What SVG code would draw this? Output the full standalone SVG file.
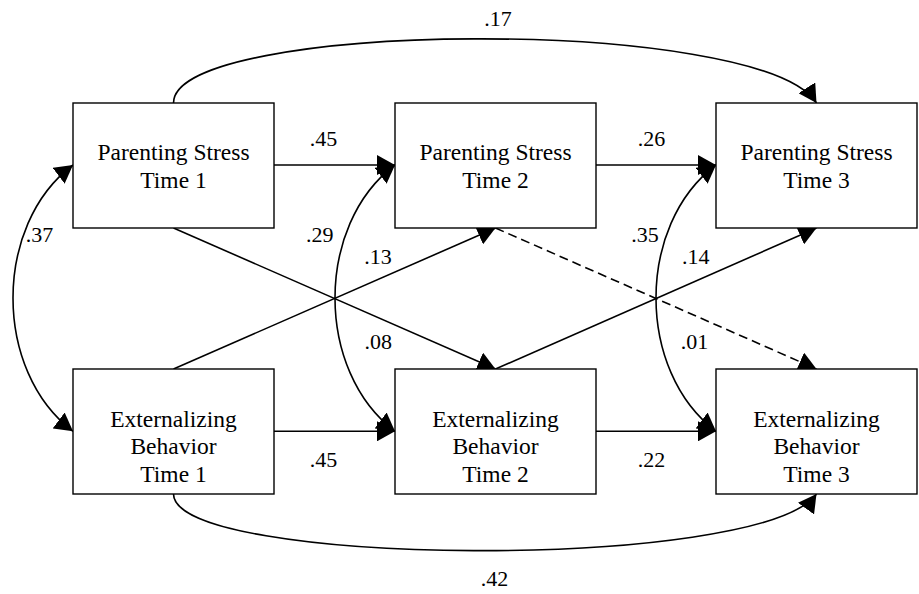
<svg xmlns="http://www.w3.org/2000/svg" width="919" height="594" viewBox="0 0 919 594">
<style>
.box{fill:#fff;stroke:#000;stroke-width:1.4}
.nt{font-family:"Liberation Serif","Times New Roman",serif;font-size:23.5px;fill:#000;text-anchor:middle}
.lb{font-family:"Liberation Serif","Times New Roman",serif;font-size:22px;fill:#000;text-anchor:middle}
.e{fill:none;stroke:#000;stroke-width:1.6;marker-end:url(#ah)}
.d{marker-start:url(#ah)}
.dash{stroke-dasharray:9,5}
</style>
<defs>
<marker id="ah" viewBox="0 0 18 20" refX="18" refY="10" markerWidth="18" markerHeight="20" markerUnits="userSpaceOnUse" orient="auto-start-reverse">
<path d="M0,0 L18,10 L0,20 z" fill="#000"/>
</marker>
</defs>
<rect width="919" height="594" fill="#fff"/>
<g id="connectors">
<path class="e" d="M274,165 H395"/>
<path class="e" d="M596,165 H716"/>
<path class="e" d="M274,431.3 H395"/>
<path class="e" d="M596,431.3 H716"/>
<path class="e" d="M173.5,103 C173.5,20 760,15 816.5,103"/>
<path class="e" d="M173.5,494 C173.5,567 760,572 816.5,494"/>
<path class="e d" d="M73,165 C-7,225 -7,371 73,431.3"/>
<path class="e d" d="M395,165 C315,225 315,371 395,431.3"/>
<path class="e d" d="M716,165 C636,225 636,371 716,431.3"/>
<path class="e" d="M173.5,228 L495.5,369"/>
<path class="e" d="M173.5,369 L495.5,228"/>
<path class="e" d="M495.5,369 L816.5,228"/>
<path class="e dash" d="M495.5,228 L816.5,369"/>
</g>
<g id="edge-labels">
<text class="lb" x="498" y="26">.17</text>
<text class="lb" x="323.5" y="145.7">.45</text>
<text class="lb" x="651.5" y="145.7">.26</text>
<text class="lb" x="39.5" y="242.3">.37</text>
<text class="lb" x="319.7" y="242.3">.29</text>
<text class="lb" x="378" y="264.3">.13</text>
<text class="lb" x="645" y="242.3">.35</text>
<text class="lb" x="695.7" y="264.3">.14</text>
<text class="lb" x="378.3" y="349">.08</text>
<text class="lb" x="694.5" y="349">.01</text>
<text class="lb" x="323.5" y="467.3">.45</text>
<text class="lb" x="651.5" y="467.3">.22</text>
<text class="lb" x="494.5" y="585.7">.42</text>
</g>
<g id="ps1">
<rect class="box" x="73" y="103" width="201" height="125"/>
<text class="nt" x="173.5" y="160">Parenting Stress</text>
<text class="nt" x="173.5" y="188">Time 1</text>
</g>
<g id="ps2">
<rect class="box" x="395" y="103" width="201" height="125"/>
<text class="nt" x="495.5" y="160">Parenting Stress</text>
<text class="nt" x="495.5" y="188">Time 2</text>
</g>
<g id="ps3">
<rect class="box" x="716" y="103" width="201" height="125"/>
<text class="nt" x="816.5" y="160">Parenting Stress</text>
<text class="nt" x="816.5" y="188">Time 3</text>
</g>
<g id="eb1">
<rect class="box" x="73" y="369" width="201" height="125"/>
<text class="nt" x="173.5" y="426.5">Externalizing</text>
<text class="nt" x="173.5" y="454">Behavior</text>
<text class="nt" x="173.5" y="481.5">Time 1</text>
</g>
<g id="eb2">
<rect class="box" x="395" y="369" width="201" height="125"/>
<text class="nt" x="495.5" y="426.5">Externalizing</text>
<text class="nt" x="495.5" y="454">Behavior</text>
<text class="nt" x="495.5" y="481.5">Time 2</text>
</g>
<g id="eb3">
<rect class="box" x="716" y="369" width="201" height="125"/>
<text class="nt" x="816.5" y="426.5">Externalizing</text>
<text class="nt" x="816.5" y="454">Behavior</text>
<text class="nt" x="816.5" y="481.5">Time 3</text>
</g>
</svg>
